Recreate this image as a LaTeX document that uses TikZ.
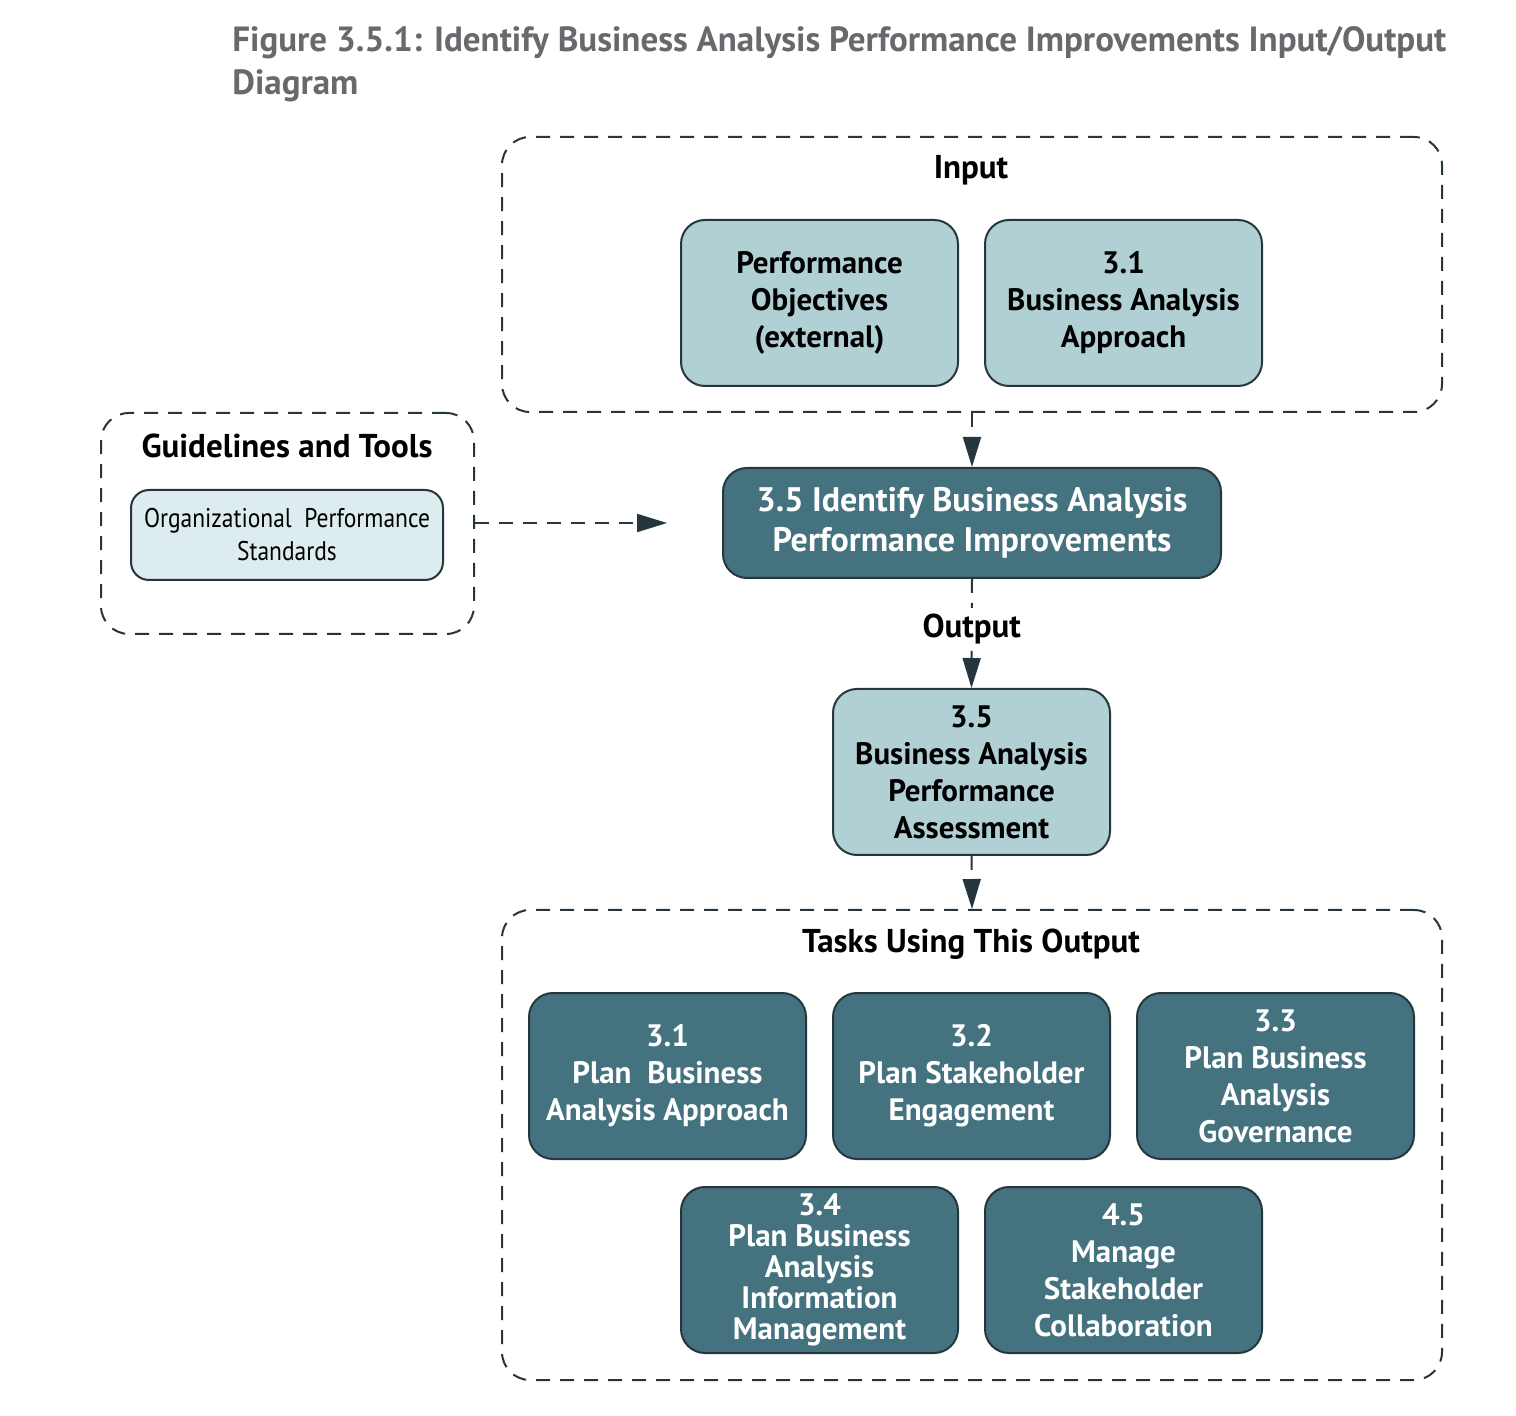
\documentclass[tikz,border=0pt]{standalone}
\usepackage{fontspec}
\setmainfont{PT Sans}
\newfontfamily\orgfont{PT Sans}[FakeStretch=0.87]
\usetikzlibrary{arrows.meta,positioning}
\definecolor{lightteal}{HTML}{B1D0D4}
\definecolor{paleteal}{HTML}{DDECEE}
\definecolor{darkteal}{HTML}{44727F}
\definecolor{edge}{HTML}{26363F}
\definecolor{titlegray}{HTML}{67696C}
\tikzset{
  lbox/.style={draw=edge, line width=1pt, rounded corners=12pt, fill=lightteal, align=center, inner sep=2pt,
    font=\bfseries\fontsize{15.5}{18.5}\selectfont, text=black, minimum width=138.5pt, minimum height=83pt},
  dbox/.style={draw=edge, line width=1pt, rounded corners=12pt, fill=darkteal, align=center, inner sep=2pt,
    font=\bfseries\fontsize{15.5}{18.5}\selectfont, text=white, minimum width=138.5pt, minimum height=83pt},
  group/.style={draw=edge, line width=1pt, dash pattern=on 7pt off 5pt, rounded corners=14pt},
  header/.style={font=\bfseries\fontsize{16.5}{19}\selectfont, text=black},
  conn/.style={draw=edge, line width=1pt, dash pattern=on 7pt off 5pt, -{Triangle[length=15pt,width=9pt]}}
}
\begin{document}
\begin{tikzpicture}[x=0.5pt,y=-0.5pt]
\useasboundingbox (0,0) rectangle (1516,1416);
% title
\node[anchor=west, align=left, text=titlegray, font=\bfseries\fontsize{17.5}{21.5}\selectfont, inner sep=0pt] (title) at (232,64)
  {Figure 3.5.1: Identify Business Analysis Performance Improvements Input/Output\\Diagram};
% groups
\node[group, minimum width=470pt, minimum height=137.5pt] (input) at (972,274.5) {};
\node[header] (inputlbl) at (971,170) {Input};
\node[group, minimum width=186.5pt, minimum height=110.5pt] (guide) at (287.5,523.5) {};
\node[header] (guidelbl) at (287,446) {Guidelines and Tools};
\node[group, minimum width=470pt, minimum height=235pt] (tasks) at (972,1145) {};
\node[header] (taskslbl) at (971,944) {Tasks Using This Output};
% input boxes
\node[lbox] (po) at (819.5,303) {Performance\\Objectives\\(external)};
\node[lbox] (ba) at (1123.5,303) {3.1\\Business Analysis\\Approach};
% guideline box
\node[draw=edge, line width=1pt, rounded corners=9pt, fill=paleteal, align=center, minimum width=156pt, minimum height=45pt,
  font=\orgfont\fontsize{13.5}{16.5}\selectfont] (ops) at (287,535) {Organizational\ \ Performance\\Standards};
% main task
\node[dbox, minimum width=249pt, minimum height=55pt, font=\bfseries\fontsize{17}{20}\selectfont] (main) at (972,523)
  {3.5 Identify Business Analysis\\Performance Improvements};
% output
\node[lbox] (out) at (971.5,772) {3.5\\Business Analysis\\Performance\\Assessment};
% tasks
\node[dbox] (t31) at (667.5,1076) {3.1\\Plan\ \ Business\\Analysis Approach};
\node[dbox] (t32) at (971.5,1076) {3.2\\Plan Stakeholder\\Engagement};
\node[dbox] (t33) at (1275.5,1076) {3.3\\Plan Business\\Analysis\\Governance};
\node[dbox, font=\bfseries\fontsize{15.5}{15.5}\selectfont] (t34) at (819.5,1270) {3.4\\Plan Business\\Analysis\\Information\\Management};
\node[dbox] (t45) at (1123.5,1270) {4.5\\Manage\\Stakeholder\\Collaboration};
% connectors
\coordinate (gtip) at (667,523);
\draw[conn] (input.south) -- (main.north);
\draw[conn] (guide.east |- gtip) -- (gtip);
\draw[conn] (main.south) -- node[fill=white, header, inner sep=3pt, pos=0.46] (outlbl) {Output} (out.north);
\draw[conn] (out.south) -- (tasks.north);
\end{tikzpicture}
\end{document}
